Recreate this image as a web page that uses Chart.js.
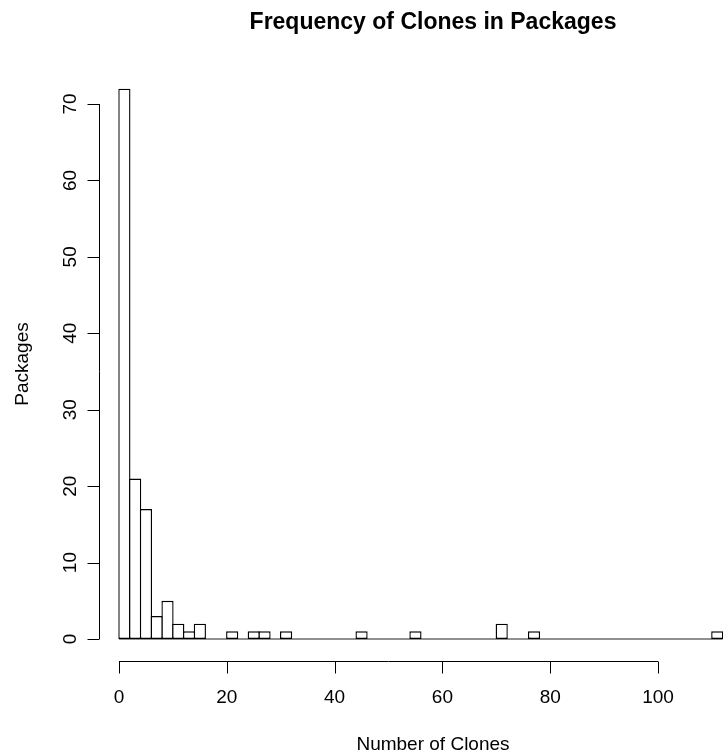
<!DOCTYPE html>
<html lang="en">
<head>
    <meta charset="UTF-8">
    <title>Frequency of Clones in Packages</title>
    <script src="https://cdn.jsdelivr.net/npm/chart.js"></script>
    <style>
        body {
            margin: 0;
            background: #fff;
            overflow: hidden;
        }
        .chart-container {
            position: relative;
            width: 723px;
            height: 751px;
        }
    </style>
</head>
<body>
    <div class="chart-container">
        <canvas id="histChart"></canvas>
    </div>

    <script>
        // histogram bins: left edge of each 2-wide bin and the package count in it
        const binStarts = [0, 2, 4, 6, 8, 10, 12, 14, 16, 18, 20, 22, 24, 26, 28, 30,
            32, 34, 36, 38, 40, 42, 44, 46, 48, 50, 52, 54, 56, 58, 60, 62,
            64, 66, 68, 70, 72, 74, 76, 78, 80, 82, 84, 86, 88, 90, 92, 94,
            96, 98, 100, 102, 104, 106, 108, 110];
        const counts = [72, 21, 17, 3, 5, 2, 1, 2, 0, 0, 1, 0, 1, 1, 0, 1,
            0, 0, 0, 0, 0, 0, 1, 0, 0, 0, 0, 1, 0, 0, 0, 0,
            0, 0, 0, 2, 0, 0, 1, 0, 0, 0, 0, 0, 0, 0, 0, 0,
            0, 0, 0, 0, 0, 0, 0, 1];
        const binWidth = 2;
        const xTicks = [0, 20, 40, 60, 80, 100];
        const yTicks = [0, 10, 20, 30, 40, 50, 60, 70];

        const FONT = '"Liberation Sans", Arial, Helvetica, sans-serif';

        const barData = binStarts.map((s, i) => ({ x: s + binWidth / 2, y: counts[i] }));
        const lastEdge = binStarts[binStarts.length - 1] + binWidth;

        // R style axes and titles, placed through the chart's own scales
        const rAxes = {
            id: "rAxes",
            afterDraw(chart) {
                const ctx = chart.ctx;
                const xs = chart.scales.x;
                const ys = chart.scales.y;
                const area = chart.chartArea;
                ctx.save();
                ctx.strokeStyle = "#000";
                ctx.fillStyle = "#000";
                ctx.lineWidth = 1;

                // x axis
                const ay = Math.round(area.bottom) + 0.5;
                ctx.beginPath();
                ctx.moveTo(xs.getPixelForValue(xTicks[0]), ay);
                ctx.lineTo(xs.getPixelForValue(xTicks[xTicks.length - 1]), ay);
                xTicks.forEach(t => {
                    const px = Math.round(xs.getPixelForValue(t)) + 0.5;
                    ctx.moveTo(px, ay);
                    ctx.lineTo(px, ay + 12);
                });
                ctx.stroke();
                ctx.font = "19px " + FONT;
                ctx.textAlign = "center";
                ctx.textBaseline = "alphabetic";
                xTicks.forEach(t => {
                    ctx.fillText(String(t), xs.getPixelForValue(t), ay + 41);
                });

                // y axis
                const ax = Math.round(area.left) + 0.5;
                ctx.beginPath();
                ctx.moveTo(ax, ys.getPixelForValue(yTicks[0]));
                ctx.lineTo(ax, ys.getPixelForValue(yTicks[yTicks.length - 1]));
                yTicks.forEach(t => {
                    const py = Math.round(ys.getPixelForValue(t)) + 0.5;
                    ctx.moveTo(ax, py);
                    ctx.lineTo(ax - 12, py);
                });
                ctx.stroke();
                yTicks.forEach(t => {
                    ctx.save();
                    ctx.translate(ax - 24, ys.getPixelForValue(t));
                    ctx.rotate(-Math.PI / 2);
                    ctx.fillText(String(t), 0, 0);
                    ctx.restore();
                });

                // axis titles
                ctx.fillText("Number of Clones", 433, 750);
                ctx.save();
                ctx.translate(28, (area.top + area.bottom) / 2);
                ctx.rotate(-Math.PI / 2);
                ctx.fillText("Packages", 0, 0);
                ctx.restore();

                // main title
                ctx.font = "bold 23px " + FONT;
                ctx.fillText("Frequency of Clones in Packages", 433, 29);
                ctx.restore();
            }
        };

        const ctxHist = document.getElementById("histChart").getContext("2d");
        new Chart(ctxHist, {
            type: "bar",
            data: {
                datasets: [{
                    label: "Packages",
                    data: barData,
                    backgroundColor: "#fff",
                    borderColor: "#000",
                    borderWidth: 1.4,
                    borderSkipped: false,
                    inflateAmount: 0,
                    barPercentage: 1.13,
                    categoryPercentage: 1,
                    order: 1
                }, {
                    type: "line",
                    label: "baseline",
                    data: [{ x: binStarts[0], y: 0 }, { x: lastEdge, y: 0 }],
                    borderColor: "#222",
                    borderWidth: 1.2,
                    pointRadius: 0,
                    order: 2
                }]
            },
            options: {
                responsive: true,
                maintainAspectRatio: false,
                animation: false,
                devicePixelRatio: 1,
                layout: {
                    padding: { left: 99, top: 67, right: 0, bottom: 90 }
                },
                scales: {
                    x: { type: "linear", min: -3.711, max: 112.06, offset: false, display: false },
                    y: { type: "linear", min: -2.878, max: 74.84, display: false }
                },
                plugins: {
                    legend: { display: false },
                    tooltip: { enabled: false }
                }
            },
            plugins: [rAxes]
        });
    </script>
</body>
</html>
